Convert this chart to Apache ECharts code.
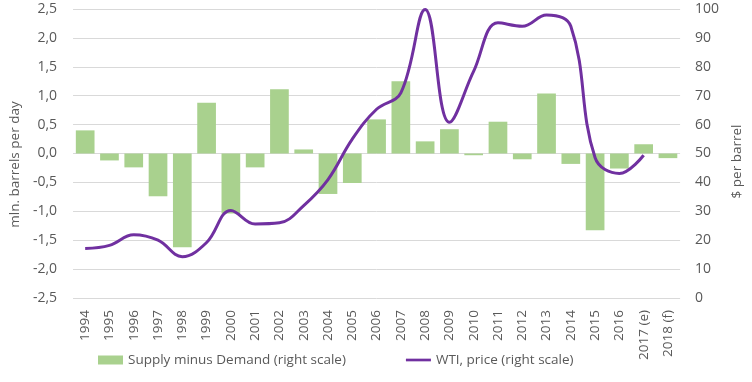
<!DOCTYPE html>
<html>
<head>
<meta charset="utf-8">
<script src="https://cdn.jsdelivr.net/npm/echarts@6/dist/echarts.min.js"></script>
<style>
html,body{margin:0;padding:0;background:#fff;}
#chart{width:752px;height:382px;}
</style>
</head>
<body>
<div id="chart"></div>
<script>
const categories = ['1994','1995','1996','1997','1998','1999','2000','2001','2002','2003','2004','2005','2006','2007','2008','2009','2010','2011','2012','2013','2014','2015','2016','2017 (e)','2018 (f)'];
const supplyMinusDemand = [0.40,-0.12,-0.24,-0.74,-1.62,0.88,-1.04,-0.24,1.11,0.07,-0.70,-0.51,0.59,1.25,0.21,0.42,-0.03,0.55,-0.10,1.04,-0.18,-1.33,-0.26,0.16,-0.08];
const wtiPrice = [17.1,18.2,21.9,20.0,14.3,19.2,30.3,25.6,26.0,32.0,41.0,55.0,65.3,71.0,99.8,60.8,78.5,95.2,94.0,97.9,94.0,48.5,43.1,49.4,null];
const leftTicks = ['-2,5','-2,0','-1,5','-1,0','-0,5','0,0','0,5','1,0','1,5','2,0','2,5'];
const rightTicks = ['0','10','20','30','40','50','60','70','80','90','100'];

const FONT = '"Open Sans", "Liberation Sans", sans-serif';
const TXT = '#595959';
const chart = echarts.init(document.getElementById('chart'), null, {renderer:'canvas'});
chart.setOption({
  animation: false,
  textStyle: {fontFamily: FONT},
  grid: {left: 72, right: 65, top: 9, bottom: 84, containLabel: false},
  legend: {
    bottom: 10, left: 93,
    itemGap: 60,
    itemWidth: 25, itemHeight: 9,
    textStyle: {fontFamily: FONT, fontSize: 13.5, color: TXT},
    data: [
      {name: 'Supply minus Demand (right scale)', icon: 'rect'},
      {name: 'WTI, price (right scale)', icon: 'path://M0,0H28V3H0Z'}
    ]
  },
  xAxis: {
    type: 'category',
    data: categories,
    axisLine: {show: false},
    axisTick: {show: false},
    axisLabel: {rotate: 90, interval: 0, margin: 12, color: TXT, fontFamily: FONT, fontSize: 13.5}
  },
  yAxis: [
    {
      type: 'value', min: -2.5, max: 2.5, interval: 0.5,
      name: 'mln. barrels per day', nameLocation: 'middle', nameRotate: 90, nameGap: 48,
      nameTextStyle: {color: TXT, fontFamily: FONT, fontSize: 13.5, padding: [0, 22, 0, 0]},
      axisLine: {show: false}, axisTick: {show: false},
      axisLabel: {
        color: TXT, fontFamily: FONT, fontSize: 14, margin: 16,
        formatter: function (v) { return leftTicks[Math.round((v + 2.5) / 0.5)]; }
      },
      splitLine: {lineStyle: {color: '#D9D9D9', width: 1}}
    },
    {
      type: 'value', min: 0, max: 100, interval: 10, position: 'right',
      name: '$ per barrel', nameLocation: 'middle', nameRotate: 90, nameGap: 44,
      nameTextStyle: {color: TXT, fontFamily: FONT, fontSize: 13.5, padding: [0, 16, 0, 0]},
      axisLine: {show: false}, axisTick: {show: false},
      axisLabel: {
        color: TXT, fontFamily: FONT, fontSize: 14, margin: 15,
        formatter: function (v) { return rightTicks[Math.round(v / 10)]; }
      },
      splitLine: {show: false}
    }
  ],
  series: [
    {
      name: 'Supply minus Demand (right scale)',
      type: 'bar',
      yAxisIndex: 0,
      data: supplyMinusDemand,
      barCategoryGap: '23%',
      itemStyle: {color: '#A9D18E'}
    },
    {
      name: 'WTI, price (right scale)',
      type: 'line',
      yAxisIndex: 1,
      data: wtiPrice,
      smooth: 0.4,
      symbol: 'none',
      connectNulls: false,
      lineStyle: {color: '#7030A0', width: 3},
      itemStyle: {color: '#7030A0'}
    }
  ]
});
</script>
</body>
</html>
